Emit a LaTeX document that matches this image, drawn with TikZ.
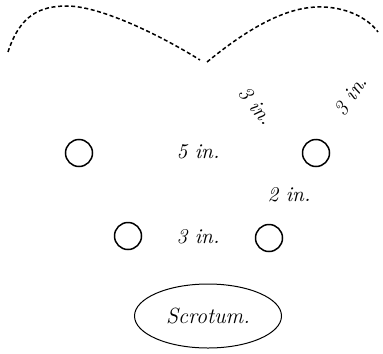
\documentclass[tikz,border=0pt]{standalone}
\usepackage{tikz}
\usetikzlibrary{
    shapes.geometric,
    positioning
}

\begin{document}
\begin{tikzpicture}[
        x=0.5pt, y=-0.5pt,
        hole/.style={circle, draw=black, line width=0.75pt, minimum size=13.5pt, inner sep=0pt},
        dim/.style={font=\fontsize{10.5}{12}\selectfont\itshape, inner sep=1pt},
        outline/.style={draw=black, line width=0.75pt, dash pattern=on 2pt off 1.3pt},
        sac/.style={ellipse, draw=black, line width=0.5pt, minimum width=73.5pt,
                    minimum height=32pt, inner sep=0pt,
                    font=\fontsize{11}{13}\selectfont\itshape},
    ]
    \useasboundingbox (0,0) rectangle (383,353);

    % Dotted outline (top)
    \draw[outline] (8,52) .. controls (20,15) and (40,6) .. (67,6)
        .. controls (100,6) and (160,35) .. (200,60);
    \draw[outline] (207,62) .. controls (240,35) and (280,8) .. (317,7)
        .. controls (345,6) and (368,18) .. (378,32);

    % Openings
    \node[hole] (ul) at (79,153)  {};
    \node[hole] (ur) at (316,153) {};
    \node[hole] (ll) at (128,236) {};
    \node[hole] (lr) at (269,238) {};

    % Distances
    \node[dim] (d5)  at (198,152) {5 in.};
    \node[dim] (d2)  at (289,195) {2 in.};
    \node[dim] (d3)  at (198,237) {3 in.};
    \node[dim, rotate=-50] (d3l) at (256,106) {3 in.};
    \node[dim, rotate=57]  (d3r) at (351,96)  {3 in.};

    % Scrotum
    \node[sac] (scr) at (208,316) {Scrotum.};

\end{tikzpicture}
\end{document}
